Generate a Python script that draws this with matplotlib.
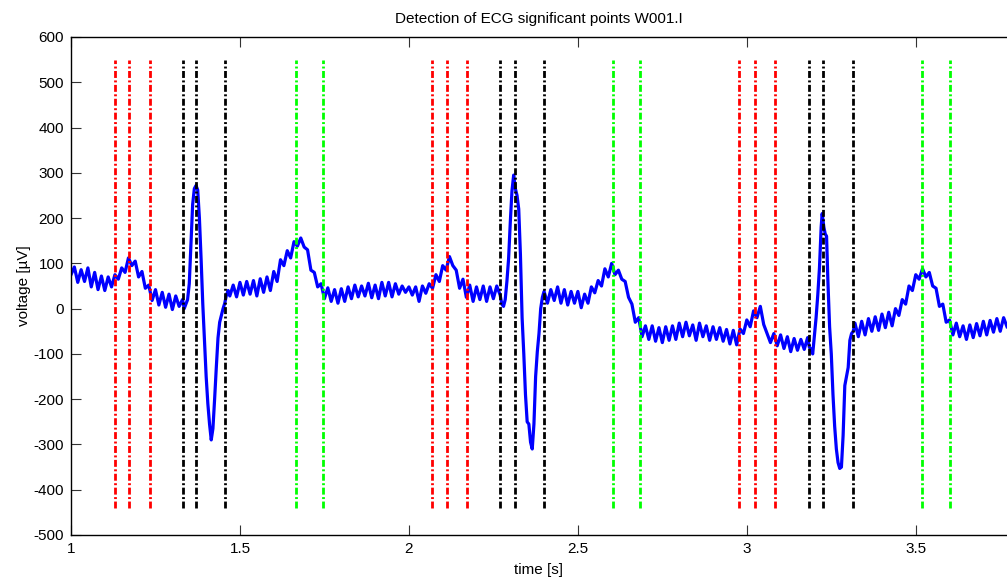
import numpy as np
import matplotlib
matplotlib.use("Agg")
import matplotlib.pyplot as plt

# ECG trace (time in s, voltage in uV)
time_s = [
    1.00, 1.01, 1.02, 1.03, 1.04, 1.05, 1.06, 1.07, 1.08, 1.09, 1.10, 1.11, 1.12, 1.13, 1.14, 1.15,
    1.16, 1.17, 1.18, 1.19, 1.20, 1.21, 1.22, 1.23, 1.24, 1.25, 1.26, 1.27, 1.28, 1.29, 1.30, 1.31,
    1.32, 1.33, 1.335, 1.340, 1.345, 1.350, 1.355, 1.360, 1.365, 1.370, 1.375, 1.380, 1.385, 1.390,
    1.395, 1.400, 1.405, 1.410, 1.415, 1.420, 1.425, 1.430, 1.435, 1.440, 1.445, 1.450, 1.455, 1.460,
    1.465, 1.47, 1.48, 1.49, 1.50, 1.51, 1.52, 1.53, 1.54, 1.55, 1.56, 1.57, 1.58, 1.59, 1.60, 1.61,
    1.62, 1.63, 1.64, 1.65, 1.66, 1.67, 1.68, 1.69, 1.70, 1.71, 1.72, 1.73, 1.74, 1.75, 1.76, 1.77,
    1.78, 1.79, 1.80, 1.81, 1.82, 1.83, 1.84, 1.85, 1.86, 1.87, 1.88, 1.89, 1.90, 1.91, 1.92, 1.93,
    1.94, 1.95, 1.96, 1.97, 1.98, 1.99, 2.00, 2.01, 2.02, 2.03, 2.04, 2.05, 2.06, 2.07, 2.08, 2.09,
    2.10, 2.11, 2.12, 2.13, 2.14, 2.15, 2.16, 2.17, 2.18, 2.19, 2.20, 2.21, 2.22, 2.23, 2.24, 2.25,
    2.26, 2.27, 2.275, 2.280, 2.285, 2.290, 2.295, 2.300, 2.305, 2.310, 2.315, 2.320, 2.325, 2.330,
    2.335, 2.340, 2.345, 2.350, 2.355, 2.360, 2.365, 2.370, 2.375, 2.380, 2.385, 2.390, 2.395, 2.400,
    2.41, 2.42, 2.43, 2.44, 2.45, 2.46, 2.47, 2.48, 2.49, 2.50, 2.51, 2.52, 2.53, 2.54, 2.55, 2.56,
    2.57, 2.58, 2.59, 2.60, 2.61, 2.62, 2.63, 2.64, 2.65, 2.66, 2.67, 2.68, 2.69, 2.70, 2.71, 2.72,
    2.73, 2.74, 2.75, 2.76, 2.77, 2.78, 2.79, 2.80, 2.81, 2.82, 2.83, 2.84, 2.85, 2.86, 2.87, 2.88,
    2.89, 2.90, 2.91, 2.92, 2.93, 2.94, 2.95, 2.96, 2.97, 2.98, 2.99, 3.00, 3.01, 3.02, 3.03, 3.04,
    3.05, 3.06, 3.07, 3.08, 3.09, 3.10, 3.11, 3.12, 3.13, 3.14, 3.15, 3.16, 3.17, 3.18, 3.185, 3.19,
    3.195, 3.200, 3.205, 3.210, 3.215, 3.220, 3.223, 3.228, 3.232, 3.236, 3.240, 3.245, 3.250, 3.255,
    3.260, 3.265, 3.270, 3.275, 3.280, 3.285, 3.290, 3.295, 3.300, 3.305, 3.310, 3.315, 3.32, 3.33,
    3.34, 3.35, 3.36, 3.37, 3.38, 3.39, 3.40, 3.41, 3.42, 3.43, 3.44, 3.45, 3.46, 3.47, 3.48, 3.49,
    3.50, 3.51, 3.52, 3.53, 3.54, 3.55, 3.56, 3.57, 3.58, 3.59, 3.60, 3.61, 3.62, 3.63, 3.64, 3.65,
    3.66, 3.67, 3.68, 3.69, 3.70, 3.71, 3.72, 3.73, 3.74, 3.75, 3.76, 3.77,
]
voltage_uv = [
    75, 92, 58, 86, 60, 90, 48, 80, 42, 72, 40, 70, 48, 75, 65, 90,
    80, 112, 95, 105, 70, 82, 45, 52, 18, 42, 8, 36, 3, 32, -2, 28,
    5, 20, 0, 10, 20, 55, 140, 230, 265, 272, 262, 200, 110, 10,
    -70, -150, -210, -255, -290, -265, -200, -130, -65, -30, -15, 0, 12, 30,
    40, 28, 52, 26, 58, 30, 60, 32, 62, 28, 66, 36, 70, 40, 82, 60,
    108, 95, 128, 112, 148, 138, 156, 136, 130, 85, 80, 48, 55, 22, 46, 16,
    42, 12, 44, 16, 48, 22, 52, 26, 50, 28, 56, 24, 52, 22, 58, 28,
    58, 26, 55, 32, 50, 36, 48, 30, 48, 16, 50, 34, 55, 45, 75, 60,
    95, 85, 115, 95, 85, 45, 65, 25, 52, 16, 48, 20, 50, 16, 48, 22,
    50, 30, 10, 5, 20, 60, 110, 190, 260, 295, 265, 250, 220, 120,
    -20, -100, -190, -250, -255, -295, -310, -255, -150, -95, -55, 0, 25, 38,
    12, 42, 18, 48, 12, 42, 8, 38, 12, 38, 2, 32, 12, 48, 35, 62,
    50, 88, 70, 100, 75, 85, 65, 60, 25, 10, -30, -20, -62, -38, -68, -38,
    -72, -42, -75, -40, -70, -38, -68, -32, -62, -30, -60, -36, -70, -32, -62, -38,
    -70, -40, -68, -42, -72, -46, -78, -48, -80, -45, -55, -25, -40, -5, -20, 5,
    -35, -55, -75, -55, -82, -58, -88, -62, -95, -66, -92, -68, -90, -64, -85, -90,
    -100, -60, -20, 30, 90, 180, 210, 180, 165, 160, 60, -40, -100, -190,
    -260, -310, -340, -353, -350, -280, -170, -150, -130, -70, -55, -50, -32, -62,
    -28, -58, -22, -50, -18, -48, -12, -42, -8, -38, 0, -15, 20, 10, 50, 40,
    75, 65, 88, 70, 80, 50, 45, 5, 10, -30, -25, -58, -32, -62, -38, -68,
    -36, -64, -33, -60, -28, -58, -26, -52, -22, -50, -20, -40,
]

# detected significant points (P, QRS, T) per beat
p_points = [1.131, 1.171, 1.235, 2.068, 2.112, 2.172, 2.978, 3.024, 3.084]
qrs_points = [1.330, 1.371, 1.457, 2.270, 2.313, 2.399, 3.185, 3.226, 3.314]
t_points = [1.667, 1.747, 2.604, 2.684, 3.519, 3.600]

marker_top = 550
marker_bottom = -440

plt.rcParams['font.family'] = ['Liberation Sans', 'DejaVu Sans']
plt.rcParams['lines.scale_dashes'] = False
plt.rcParams['axes.unicode_minus'] = False

fig = plt.figure(figsize=(10.07, 5.80), dpi=100)
ax = fig.add_axes([71 / 1007, 45 / 580, 936 / 1007, 498 / 580])

ax.plot(time_s, voltage_uv, color='#0000ff', linewidth=2.3, zorder=2)

dash_dot = (0, (5.0, 1.8, 1.4, 1.8))
for xs, col in [(p_points, '#ff0000'), (qrs_points, '#000000'), (t_points, '#00ff00')]:
    for x in xs:
        ax.plot([x, x], [marker_bottom, marker_top], color=col, linewidth=2.0,
                linestyle=dash_dot, zorder=3)

ax.set_xlim(1, 3.77)
ax.set_ylim(-500, 600)
ax.set_xticks([1, 1.5, 2, 2.5, 3, 3.5])
ax.set_xticklabels(['1', '1.5', '2', '2.5', '3', '3.5'])
ax.set_yticks(np.arange(-500, 601, 100))

ax.tick_params(direction='in', length=7, width=0.8, labelsize=11, top=True, pad=5,
               color='#333333')
ax.spines['right'].set_visible(False)
for s in ['left', 'bottom', 'top']:
    ax.spines[s].set_linewidth(1.0)

ax.set_title('Detection of ECG significant points W001.I', fontsize=11, pad=10)
ax.set_xlabel('time [s]', fontsize=11, labelpad=5)
ax.set_ylabel('voltage [µV]', fontsize=11, labelpad=2)

fig.savefig('out.png', dpi=100)
